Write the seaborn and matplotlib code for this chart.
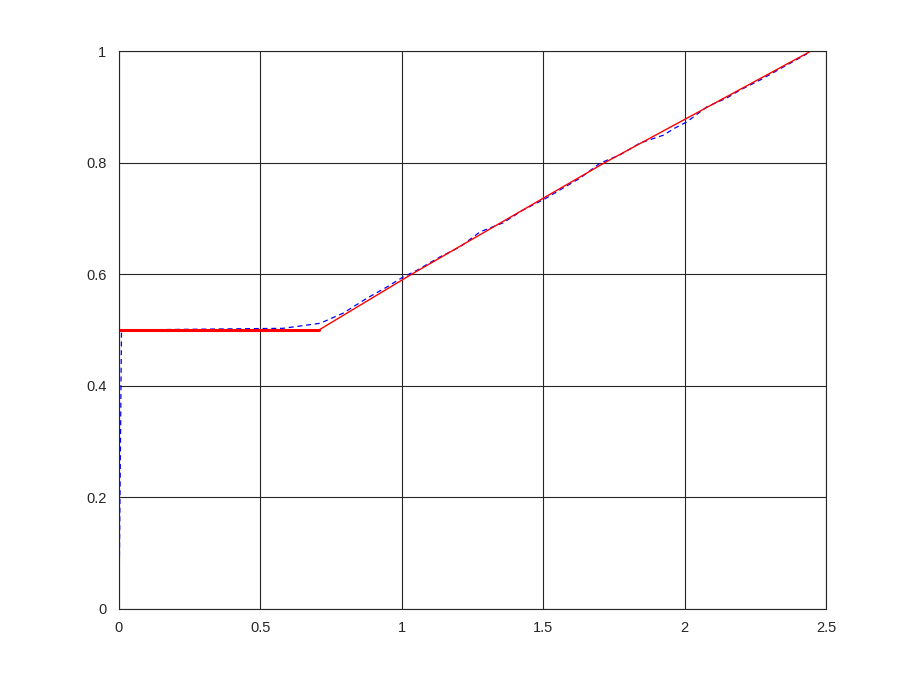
import matplotlib
matplotlib.use('Agg')
import matplotlib.pyplot as plt
import seaborn as sns
import pandas as pd

# red reference curve (flat part, then rise)
red_flat_x = [0.0, 0.707]
red_flat_y = [0.5, 0.5]
red_ramp_x = [0.707, 1.035, 1.718, 2.447]
red_ramp_y = [0.5, 0.6, 0.8, 1.0]

# blue dashed measured curve
blue_x = [0.0, 0.009, 0.58, 0.711, 0.792, 0.877, 0.947, 1.005, 1.054, 1.135,
          1.206, 1.277, 1.358, 1.429, 1.513, 1.559, 1.630, 1.701, 1.772, 1.842,
          1.924, 1.966, 2.008, 2.079, 2.150, 2.196, 2.267, 2.348, 2.433]
blue_y = [0.0, 0.5, 0.503, 0.512, 0.530, 0.557, 0.577, 0.595, 0.607, 0.631,
          0.649, 0.676, 0.692, 0.715, 0.737, 0.751, 0.772, 0.799, 0.814, 0.835,
          0.849, 0.862, 0.873, 0.900, 0.916, 0.930, 0.948, 0.971, 0.995]

x_ticks = [0, 0.5, 1, 1.5, 2, 2.5]
x_labels = ['0', '0.5', '1', '1.5', '2', '2.5']
y_ticks = [0, 0.2, 0.4, 0.6, 0.8, 1]
y_labels = ['0', '0.2', '0.4', '0.6', '0.8', '1']

sns.set_style('white')
plt.rcParams['font.family'] = ['Liberation Sans', 'DejaVu Sans']

fig = plt.figure(figsize=(9.13, 6.85), dpi=100)
ax = fig.add_axes([0.1303, 0.111, 0.7744, 0.8145])

blue_df = pd.DataFrame({'x': blue_x, 'y': blue_y})
sns.lineplot(data=blue_df, x='x', y='y', sort=False, color='blue',
             linestyle=(0, (4, 3)), linewidth=0.9, ax=ax)
sns.lineplot(x=red_flat_x, y=red_flat_y, sort=False, color='red', linewidth=2.2, ax=ax)
sns.lineplot(x=red_ramp_x, y=red_ramp_y, sort=False, color='red', linewidth=1.0, ax=ax)

ax.set_xlim(0, 2.5)
ax.set_ylim(0, 1)
ax.set_xticks(x_ticks)
ax.set_xticklabels(x_labels)
ax.set_yticks(y_ticks)
ax.set_yticklabels(y_labels)
ax.set_xlabel('')
ax.set_ylabel('')
ax.grid(True, color='#262626', linewidth=0.8)
ax.set_axisbelow(True)
ax.tick_params(axis='both', length=0, labelsize=10.5, colors='#262626', pad=9)
for s in ax.spines.values():
    s.set_color('#262626')
    s.set_linewidth(0.8)

fig.savefig('out.png', dpi=100)
